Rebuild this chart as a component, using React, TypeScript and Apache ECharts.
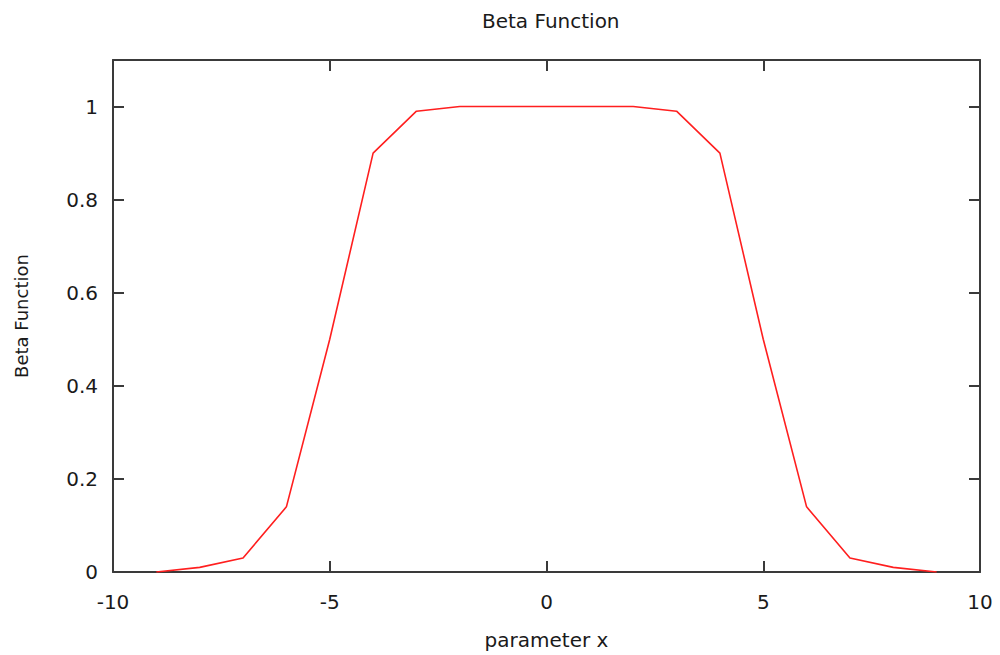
import React, { useEffect, useRef } from "react";
import * as echarts from "echarts";

// Sample positions and beta function values
const xValues: number[] = [-9, -8, -7, -6, -5, -4, -3, -2, -1, 0, 1, 2, 3, 4, 5, 6, 7, 8, 9];
const betaValues: number[] = [0, 0.01, 0.03, 0.14, 0.5, 0.9, 0.99, 1, 1, 1, 1, 1, 0.99, 0.9, 0.5, 0.14, 0.03, 0.01, 0];

const X_MIN = -10;
const X_MAX = 10;
const X_STEP = 5;
const Y_MIN = 0;
const Y_MAX = 1.1;
const Y_STEP = 0.2;

const FONT = "'DejaVu Sans', sans-serif";
const FRAME = "#3a3a3a";
const TEXT = "#1a1a1a";

export default function App() {
  const ref = useRef<HTMLDivElement>(null);

  useEffect(() => {
    if (!ref.current) return;
    const chart = echarts.init(ref.current, undefined, { renderer: "svg" });

    const frameLine = { show: true, onZero: false, lineStyle: { color: FRAME, width: 2 } };
    const inTick = { show: true, inside: true, length: 11, lineStyle: { color: FRAME, width: 2 } };

    chart.setOption({
      animation: false,
      backgroundColor: "#ffffff",
      title: {
        text: "Beta Function",
        left: 477,
        top: 6,
        textStyle: { fontFamily: FONT, fontSize: 20, fontWeight: "normal", color: TEXT },
      },
      grid: { left: 113, right: 20, top: 60, bottom: 83, containLabel: false },
      xAxis: [
        {
          type: "value",
          min: X_MIN,
          max: X_MAX,
          interval: X_STEP,
          position: "bottom",
          name: "parameter x",
          nameLocation: "middle",
          nameGap: 58,
          nameTextStyle: { fontFamily: FONT, fontSize: 20, color: TEXT },
          axisLine: frameLine,
          axisTick: inTick,
          splitLine: { show: false },
          axisLabel: { fontFamily: FONT, fontSize: 20, color: TEXT, margin: 20 },
        },
        {
          type: "value",
          min: X_MIN,
          max: X_MAX,
          interval: X_STEP,
          position: "top",
          axisLine: frameLine,
          axisTick: inTick,
          splitLine: { show: false },
          axisLabel: { show: false },
        },
      ],
      yAxis: [
        {
          type: "value",
          min: Y_MIN,
          max: Y_MAX,
          interval: Y_STEP,
          position: "left",
          name: "Beta Function",
          nameLocation: "middle",
          nameRotate: 90,
          nameGap: 83,
          nameTextStyle: { fontFamily: FONT, fontSize: 18, color: TEXT },
          axisLine: frameLine,
          axisTick: inTick,
          splitLine: { show: false },
          axisLabel: {
            fontFamily: FONT,
            fontSize: 20,
            color: TEXT,
            margin: 15,
            formatter: (v: number) => (v > 1.05 ? "" : String(Math.round(v * 10) / 10)),
          },
        },
        {
          type: "value",
          min: Y_MIN,
          max: Y_MAX,
          interval: Y_STEP,
          position: "right",
          axisLine: frameLine,
          axisTick: inTick,
          splitLine: { show: false },
          axisLabel: { show: false },
        },
      ],
      series: [
        {
          type: "line",
          xAxisIndex: 0,
          yAxisIndex: 0,
          data: xValues.map((x, i) => [x, betaValues[i]]),
          showSymbol: false,
          symbol: "none",
          lineStyle: { color: "#ff1f1f", width: 1.6 },
          z: 1,
        },
      ],
    });

    return () => chart.dispose();
  }, []);

  return (
    <div
      ref={ref}
      style={{ position: "absolute", left: 0, top: 0, width: 1000, height: 655 }}
    />
  );
}
